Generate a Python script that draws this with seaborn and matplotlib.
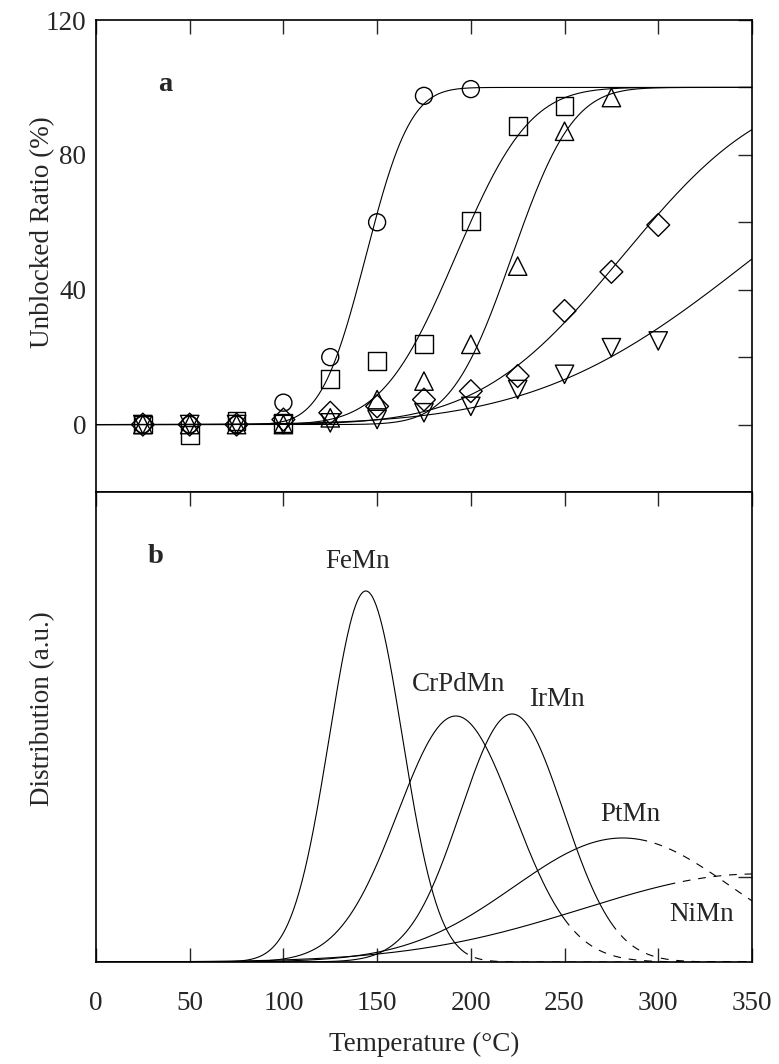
import numpy as np
import pandas as pd
import matplotlib
matplotlib.use("Agg")
import matplotlib.pyplot as plt
import seaborn as sns
from math import erf

# ---------------- data ----------------
temps = [25, 50, 75, 100, 125, 150, 175, 200, 225, 250, 275, 300]
femn = [0, 0, 0, 6.5, 20, 60, 97.5, 99.5]
crpdmn = [0, -3, 1, 0.5, 13.4, 18.8, 23.8, 60.4, 88.6, 94.6]
irmn = [0, 0, 0, 0, 2, 7.4, 12.9, 23.8, 47, 87, 97]
ptmn = [0, 0, 0, 1.5, 3.5, 5.4, 7.4, 9.9, 14.4, 33.7, 45.3, 59.2]
nimn = [0, 0, 0, 0, 0.5, 1.5, 3.5, 5.4, 10.4, 14.9, 22.8, 24.8]

alloys = ["FeMn", "CrPdMn", "IrMn", "PtMn", "NiMn"]
markers = ["o", "s", "^", "D", "v"]
marker_sizes = [150, 165, 175, 135, 175]
# fitted blocking-temperature distributions: centre, width (panel a fits),
# width and peak height of the distribution curves in panel b (a.u.)
centres = [144, 192, 222, 281, 352]
widths = [18.7, 31, 25.5, 60, 92]
dist_widths = [19.5, 31, 27.5, 58, 92]
peaks = [371, 246, 248, 124, 88]
solid_until = [195, 250, 275, 290, 305]
# label positions in panel b (temperature, height)
label_T = [139.5, 193.4, 246, 285, 323]
label_h = [400, 277, 262, 147, 47]

x_ticks = [0, 50, 100, 150, 200, 250, 300, 350]
y_major = [0, 40, 80, 120]
y_minor = [-20, 20, 60, 100]

# ---------------- style ----------------
sns.set_style("white")
plt.rcParams["font.family"] = ["Liberation Serif", "DejaVu Serif"]
FS = 19.5

fig = plt.figure(figsize=(7.79, 10.64), dpi=100)
ax1 = fig.add_axes([0.1232, 0.5376, 0.8421, 0.4436])
ax2 = fig.add_axes([0.1232, 0.0959, 0.8421, 0.4417])

grid = np.linspace(0, 350, 701)
erf_v = np.vectorize(erf)

series = [femn, crpdmn, irmn, ptmn, nimn]

# ---------------- panel a ----------------
for i, vals in enumerate(series):
    mu, sig = centres[i], widths[i]
    cum = 50 * (1 + erf_v((grid - mu) / (sig * np.sqrt(2))))
    sns.lineplot(x=grid, y=cum, ax=ax1, color="k", lw=0.8, errorbar=None)

for i, vals in enumerate(series):
    df = pd.DataFrame({"T": temps[:len(vals)], "v": vals})
    sns.scatterplot(data=df, x="T", y="v", ax=ax1, marker=markers[i],
                    s=marker_sizes[i], color="k", edgecolor="k", linewidth=1.0,
                    zorder=3)
    ax1.collections[-1].set_facecolor("none")

ax1.set_xlim(0, 350)
ax1.set_ylim(-20, 120)
ax1.set_xticks(x_ticks)
ax1.set_yticks(y_major)
ax1.set_yticks(y_minor, minor=True)
ax1.set_yticklabels([str(v) for v in y_major], fontsize=FS)
ax1.tick_params(axis="both", which="both", direction="in", top=True,
                right=True, labelbottom=False, length=10, width=1, pad=7)
ax1.set_xlabel("")
ax1.set_ylabel("Unblocked Ratio (%)", fontsize=FS)
ax1.yaxis.set_label_coords(-0.062, 0.55)
ax1.text(36.8, 101, "a", fontsize=FS + 1, fontweight="bold",
         ha="center", va="center")

# ---------------- panel b ----------------
for i in range(len(alloys)):
    mu, sig, pk = centres[i], dist_widths[i], peaks[i]
    dist = pk * np.exp(-0.5 * ((grid - mu) / sig) ** 2)
    m_solid = grid <= solid_until[i]
    m_dash = grid >= solid_until[i]
    sns.lineplot(x=grid[m_solid], y=dist[m_solid], ax=ax2, color="k",
                 lw=0.8, errorbar=None)
    sns.lineplot(x=grid[m_dash], y=dist[m_dash], ax=ax2, color="k",
                 lw=0.8, errorbar=None, linestyle=(0, (7, 7)))
    ax2.text(label_T[i], label_h[i], alloys[i], fontsize=FS,
             ha="center", va="center")

ax2.text(32, 405, "b", fontsize=FS + 1, fontweight="bold",
         ha="center", va="center")
ax2.set_xlim(0, 350)
ax2.set_ylim(0, 470)
ax2.set_xticks(x_ticks)
ax2.set_xticklabels([str(v) for v in x_ticks], fontsize=FS)
ax2.set_yticks([85])
ax2.tick_params(axis="x", which="both", direction="in", top=True,
                bottom=True, length=10, width=1, pad=21)
ax2.tick_params(axis="y", direction="in", left=False, right=True,
                labelleft=False, length=10, width=1)
ax2.set_xlabel("Temperature (°C)", fontsize=FS)
ax2.xaxis.set_label_coords(0.5, -0.148)
ax2.set_ylabel("Distribution (a.u.)", fontsize=FS)
ax2.yaxis.set_label_coords(-0.062, 0.54)

for ax in (ax1, ax2):
    for sp in ax.spines.values():
        sp.set_linewidth(1.2)
        sp.set_color("k")

fig.savefig("out.png", dpi=100)
